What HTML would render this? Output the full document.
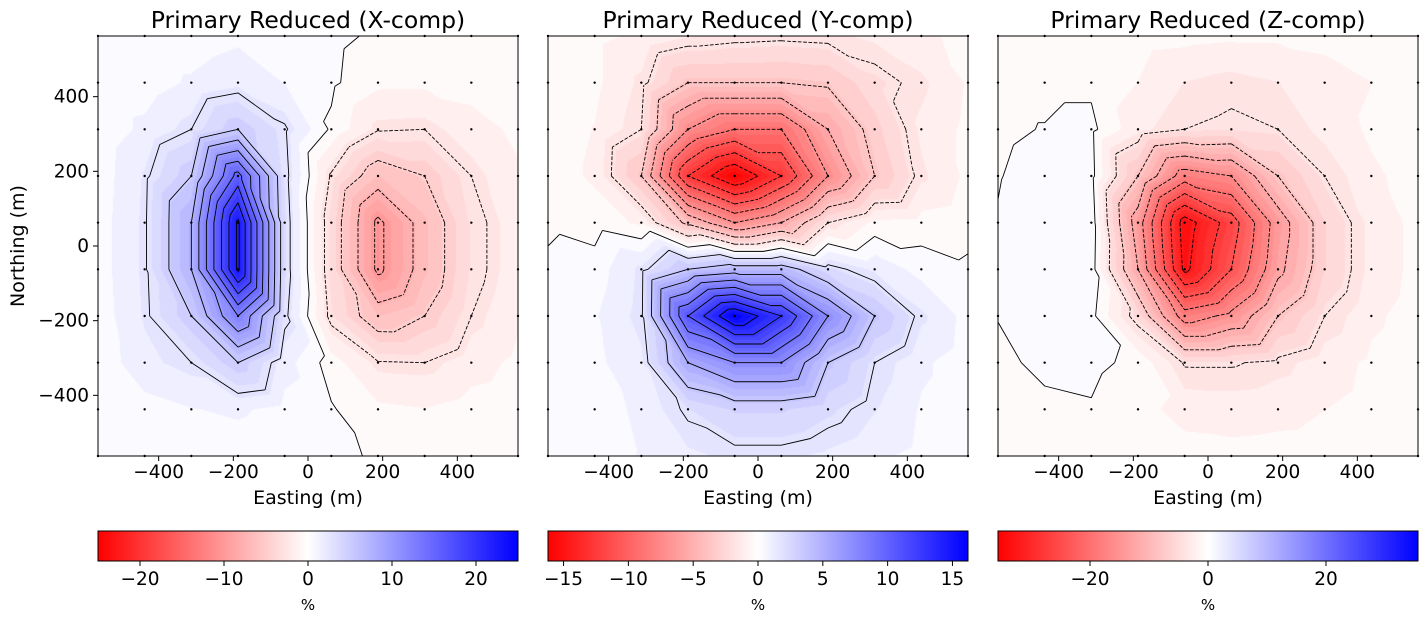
<!DOCTYPE html>
<html><head><meta charset="utf-8">
<style>
body{margin:0;background:#fff;width:1427px;height:622px;overflow:hidden;position:relative;font-family:"DejaVu Sans","Liberation Sans",sans-serif}
canvas{position:absolute;top:36px}
svg{position:absolute;left:0;top:0}
</style></head>
<body>
<canvas id="c0" width="420" height="420" style="left:98px"></canvas>
<canvas id="c1" width="420" height="420" style="left:548px"></canvas>
<canvas id="c2" width="420" height="420" style="left:998px"></canvas>
<svg id="s" width="1427" height="622" xmlns="http://www.w3.org/2000/svg"></svg>
<script>
// station coordinates (m)
const gridX = [-562.5,-437.5,-312.5,-187.5,-62.5,62.5,187.5,312.5,437.5,562.5];
const gridY = [562.5,437.5,312.5,187.5,62.5,-62.5,-187.5,-312.5,-437.5,-562.5];
// values (%), rows top (north) to bottom
const valuesX = [
[0.2,0.3,0.4,0.8,0.2,0.3,-0.2,-0.3,-0.3,-0.2],
[0.3,0.5,1.2,1.8,1.0,0.2,-0.8,-0.8,-0.6,-0.4],
[0.3,1.3,2.5,5,2.7,-0.2,-2.4,-2.5,-1.5,-0.8],
[0.4,2.2,5,16,3.0,-2.7,-6.3,-5,-2.5,-1.2],
[0.5,2.3,7.5,23,3.3,-3.5,-10.5,-6.5,-3,-1.5],
[0.5,2.3,7.5,23,3.3,-3.5,-10.5,-6.5,-3,-1.5],
[0.4,2.2,5,12.5,2.9,-3,-6.3,-5,-2.5,-1.2],
[0.3,1.8,2.5,5,1.5,-0.5,-2.4,-2.5,-1.5,-0.8],
[0.3,0.6,1,1.2,0.7,0.1,-0.8,-1,-0.6,-0.4],
[0.2,0.3,0.4,0.5,0.2,0.2,-0.1,-0.3,-0.2,-0.1]];
const valuesY = [
[-0.3,-0.5,-0.8,-1.3,-1.5,-1.6,-1.5,-1.2,-0.8,-0.5],
[-0.3,-0.5,-1.5,-3.6,-3.6,-3.6,-3.4,-2.2,-1.5,-0.6],
[-0.3,-0.7,-1.8,-7.2,-9,-9,-5.4,-3.0,-1.2,-0.5],
[-0.3,-0.8,-3.6,-12.6,-16.2,-12.6,-7.2,-3.6,-1.5,-0.5],
[-0.1,-0.3,-0.8,-4,-7.2,-5.4,-1.8,-0.5,-0.4,-0.2],
[0.1,0.3,1.5,3.6,4.5,4.5,2.2,1.2,0.4,0.1],
[0.2,0.6,1.6,10.8,16.2,12.6,7.2,3.6,1.5,0.4],
[0.2,0.5,1.2,5.4,7.2,7.2,3.6,1.8,0.8,0.3],
[0.2,0.4,0.8,2.0,2.8,2.8,2.2,1.4,0.6,0.3],
[0.3,0.5,0.7,1.2,1.5,1.5,1.2,0.8,0.5,0.3]];
const valuesZ = [
[-0.3,-0.3,-0.5,-0.8,-1.0,-1.2,-1.2,-1.0,-0.8,-0.5],
[-0.3,-0.3,-0.3,-1.5,-3,-3.5,-3,-2.2,-1.5,-0.8],
[-0.2,0.05,0.4,-2.5,-4,-4.4,-4,-2.5,-1.2,-0.6],
[-0.05,0.4,0.6,-8,-18,-16,-8,-4,-1.8,-0.8],
[0.05,0.6,1.2,-14,-34,-26,-14,-6,-2.5,-1],
[0.05,0.6,1.0,-12,-33,-24,-13,-6,-2.5,-1],
[0.03,0.5,0.5,-5,-18,-15,-8,-4,-1.8,-0.8],
[-0.2,0.2,0.3,-0.3,-4.2,-4.2,-3.5,-2.2,-1.2,-0.6],
[-0.2,-0.2,-0.1,-1,-2,-2.2,-2,-1.5,-1,-0.5],
[-0.2,-0.3,-0.4,-0.6,-0.9,-1.0,-0.9,-0.8,-0.5,-0.3]];
const titles = ["Primary Reduced (X-comp)","Primary Reduced (Y-comp)","Primary Reduced (Z-comp)"];
const vmaxes = [25, 16.2, 35.6];
const levelSteps = [2.5, 1.8, 4];
const cbarTicksX = [-20,-10,0,10,20];
const cbarTicksY = [-15,-10,-5,0,5,10,15];
const cbarTicksZ = [-20,0,20];
const axisTicks = [-400,-200,0,200,400];

const NS="http://www.w3.org/2000/svg";
const svg=document.getElementById('s');
const lefts=[98,548,998], TOP=36, W=420, R=562.5;
const TICK=18.5, LABEL=19, TITLE=23.5;
function sx(x,l){return l+(x+R)/(2*R)*W;}
function sy(y){return TOP+(R-y)/(2*R)*W;}
function el(tag,attrs,parent){const e=document.createElementNS(NS,tag);for(const k in attrs)e.setAttribute(k,attrs[k]);(parent||svg).appendChild(e);return e;}
function txt(s,x,y,size,anchor,parent){const t=el('text',{x:x,y:y,'font-size':size,'text-anchor':anchor||'middle',fill:'#000'},parent);t.textContent=s;return t;}
function cmap(v,vmax){let t=Math.max(-1,Math.min(1,v/vmax));
 if(t<0){const a=Math.round(255*(1+t));return [255,a,a];} const a=Math.round(255*(1-t));return [a,a,255];}
function interp(vals,x,y){
 let fi=(x+R)/125, fj=(R-y)/125;
 let i=Math.min(8,Math.max(0,Math.floor(fi))), j=Math.min(8,Math.max(0,Math.floor(fj)));
 let fx=fi-i, fy=fj-j;
 const v00=vals[j][i],v10=vals[j][i+1],v01=vals[j+1][i],v11=vals[j+1][i+1];
 if(fx>=fy) return v00+fx*(v10-v00)+fy*(v11-v10);
 return v00+fy*(v01-v00)+fx*(v11-v01);
}
const allVals=[valuesX,valuesY,valuesZ];
const allTicks=[cbarTicksX,cbarTicksY,cbarTicksZ];
for(let p=0;p<3;p++){
 const vals=allVals[p], vmax=vmaxes[p], step=levelSteps[p], l=lefts[p];
 const cv=document.getElementById('c'+p), ctx=cv.getContext('2d');
 const img=ctx.createImageData(W,W); const q=vmax/24;
 for(let py=0;py<W;py++)for(let px=0;px<W;px++){
  const x=-R+(px+0.5)/W*2*R, y=R-(py+0.5)/W*2*R;
  let v=interp(vals,x,y); v=(Math.floor(v/q)+0.5)*q;
  const c=cmap(v,vmax), k=(py*W+px)*4;
  img.data[k]=c[0];img.data[k+1]=c[1];img.data[k+2]=c[2];img.data[k+3]=255;
 }
 ctx.putImageData(img,0,0);
 const g=el('g',{});
 
 
 const n=Math.floor(vmax/step);
 for(let k=-n;k<=n;k++){
  const L=k*step+1e-7; let d='';
  for(let j=0;j<9;j++)for(let i=0;i<9;i++){
   const P=[[gridX[i],gridY[j],vals[j][i]],[gridX[i+1],gridY[j],vals[j][i+1]],[gridX[i+1],gridY[j+1],vals[j+1][i+1]],[gridX[i],gridY[j+1],vals[j+1][i]]];
   for(const tri of [[P[0],P[1],P[2]],[P[0],P[3],P[2]]]){
    const pts=[];
    for(const [a,b] of [[0,1],[1,2],[2,0]]){
     const A=tri[a],B=tri[b];
     if((A[2]-L)*(B[2]-L)<0){const t=(L-A[2])/(B[2]-A[2]);pts.push([A[0]+t*(B[0]-A[0]),A[1]+t*(B[1]-A[1])]);}
    }
    if(pts.length===2) d+='M'+sx(pts[0][0],l).toFixed(2)+' '+sy(pts[0][1]).toFixed(2)+'L'+sx(pts[1][0],l).toFixed(2)+' '+sy(pts[1][1]).toFixed(2);
   }
  }
  if(d){const path=el('path',{d:d,fill:'none',stroke:'#000','stroke-width':0.9},g);
   
   
   if(k<0)path.setAttribute('stroke-dasharray','3.7 1.6');}
 }
 for(const yy of gridY)for(const xx of gridX){
  const c=el('circle',{cx:sx(xx,l),cy:sy(yy),r:1.2,fill:'#000'},g);
  
  
 }
 const fr=el('rect',{x:l,y:TOP,width:W,height:W,fill:'none',stroke:'#000','stroke-width':1},g);
 
 
 const tt=txt(titles[p],l+W/2,28,TITLE,'middle',g);
 
 
 for(const t of axisTicks){
  const x=sx(t,l);
  el('line',{x1:x,x2:x,y1:TOP+W,y2:TOP+W+5,stroke:'#000'},g);
  const lb=txt((t<0?'\u2212':'')+Math.abs(t),x,478,TICK,'middle',g);
  
  
  if(p===0){const y=sy(t);el('line',{x1:l-5,x2:l,y1:y,y2:y,stroke:'#000'},g);
   const yl=txt((t<0?'\u2212':'')+Math.abs(t),l-9,y+6,TICK,'end',g);
   
   }
 }
 const xl=txt('Easting (m)',l+W/2,504,LABEL,'middle',g);
 
 
 const gid='grad'+p;
 const defs=el('defs',{},g); const lg=el('linearGradient',{id:gid,x1:0,x2:1,y1:0,y2:0},defs);
 el('stop',{offset:0,'stop-color':'#ff0000'},lg);el('stop',{offset:0.5,'stop-color':'#ffffff'},lg);el('stop',{offset:1,'stop-color':'#0000ff'},lg);
 const cb=el('rect',{x:l,y:531,width:W,height:30,fill:'url(#'+gid+')',stroke:'#000','stroke-width':1},g);
 
 
 for(const t of allTicks[p]){
  const x=l+W/2+t/vmax*W/2;
  el('line',{x1:x,x2:x,y1:561,y2:566,stroke:'#000'},g);
  const cl=txt((t<0?'\u2212':'')+Math.abs(t),x,585,TICK,'middle',g);
  
  
 }
 const pc=txt('%',l+W/2,610,15,'middle',g);
 
 
}
const yt=txt('Northing (m)',0,0,LABEL,'middle');
yt.setAttribute('transform','translate(24,246) rotate(-90)');


</script>
</body></html>
